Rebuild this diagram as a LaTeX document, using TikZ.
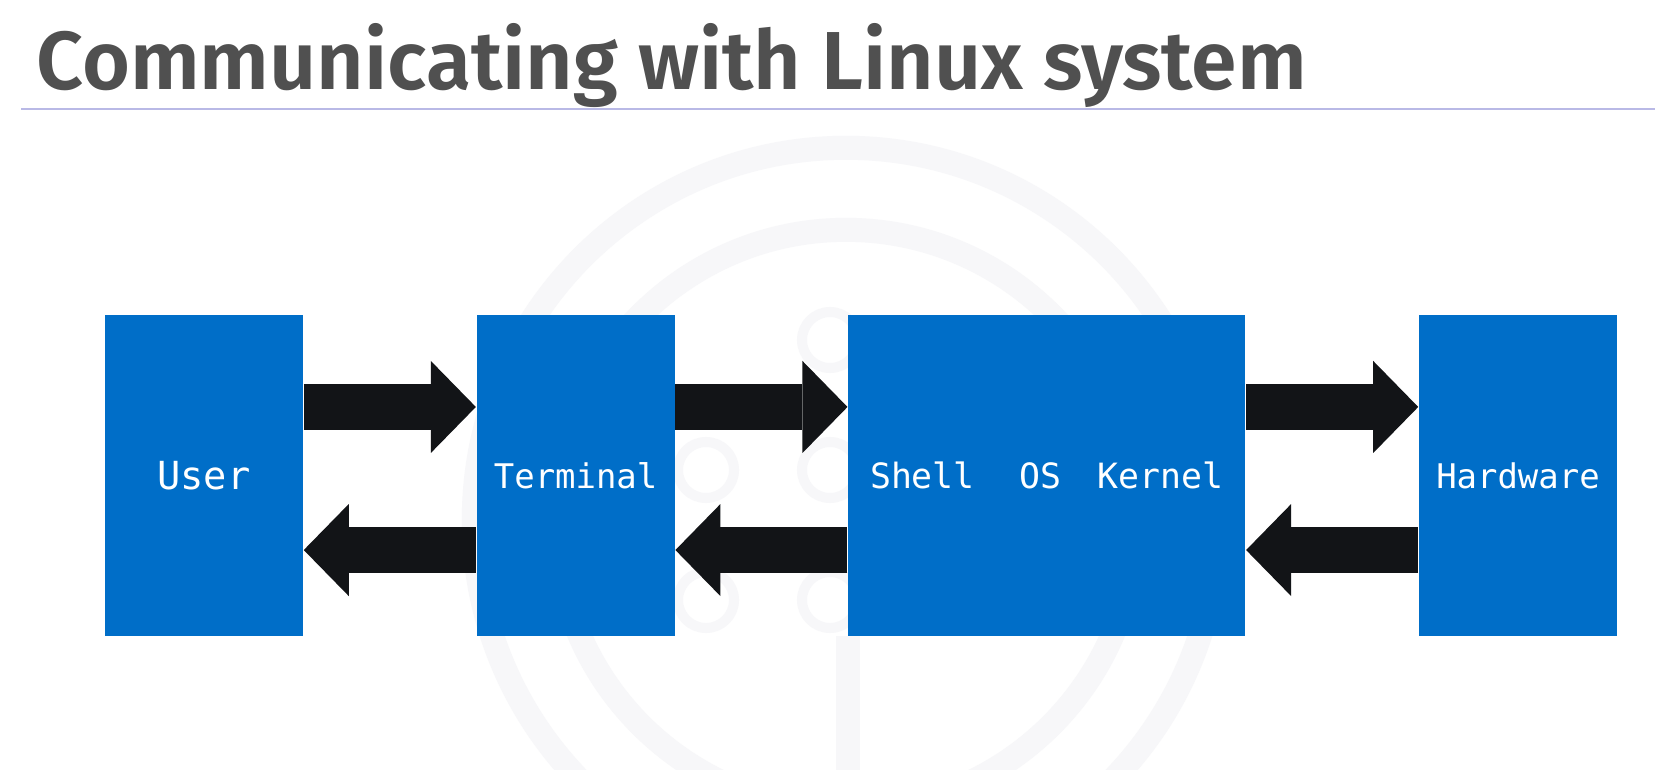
\documentclass[tikz,border=0pt]{standalone}
\usepackage{fontspec}
\setmonofont{DejaVu Sans Mono}
\newfontfamily\titlefont{Fira Sans SemiBold}
\usetikzlibrary{positioning,arrows.meta}
\definecolor{boxblue}{RGB}{0,110,200}
\definecolor{arrowblack}{RGB}{18,20,23}
\definecolor{titlegray}{RGB}{80,80,80}
\definecolor{rulecol}{RGB}{185,185,230}
\definecolor{wm}{RGB}{247,247,249}
\tikzset{>=latex,
    block/.style={fill=boxblue,text=white,minimum width=1.98cm,minimum height=3.21cm,inner sep=0pt,font=\ttfamily\fontsize{9.65}{11}\selectfont},
    fat/.style={draw=arrowblack,line width=0.46cm,-{Triangle[length=0.45cm,width=0.92cm,line width=0pt]}}}

\begin{document}
\begin{tikzpicture}[x=0.01cm,y=-0.01cm]
            \useasboundingbox (0,0) rectangle (1655,770);
            \clip (0,0) rectangle (1655,770);
            \fill[white] (0,0) rectangle (1655,770);
            \draw[wm,line width=0.24cm] (846,520) circle (3.72cm) (846,520) circle (2.9cm);
            \draw[wm,line width=0.24cm] (848,636) -- (848,780);
            \foreach \x/\y in {706/470,706/600,830/340,830/470,830/600}
                \draw[wm,line width=0.1cm] (\x,\y) circle (0.28cm);
            \node[anchor=base west,inner sep=0pt,text=titlegray,font=\titlefont\fontsize{23.4}{28}\selectfont] (title) at (36,90) {Communicating with Linux system};
            \draw[rulecol,line width=0.02cm] (21,109) -- (1655,109);
            \node[block,font=\ttfamily\fontsize{11}{13}\selectfont] (user) at (204,475.5) {User};
            \node[block,right=1.72cm of user] (term) {Terminal};
            \node[block,right=1.72cm of term,minimum width=3.97cm,font=\ttfamily\fontsize{9.9}{11}\selectfont] (shell) {Shell\hspace{0.45cm}OS\hspace{0.36cm}Kernel\hspace{0.1cm}};
            \node[block,right=1.72cm of shell] (hw) {Hardware};
            \foreach \a/\b in {user/term,term/shell,shell/hw}{
                \draw[fat] ([yshift=0.685cm]\a.east) -- ([yshift=0.685cm]\b.west);
                \draw[fat] ([yshift=-0.745cm]\b.west) -- ([yshift=-0.745cm]\a.east);
            }
        \end{tikzpicture}
\end{document}
